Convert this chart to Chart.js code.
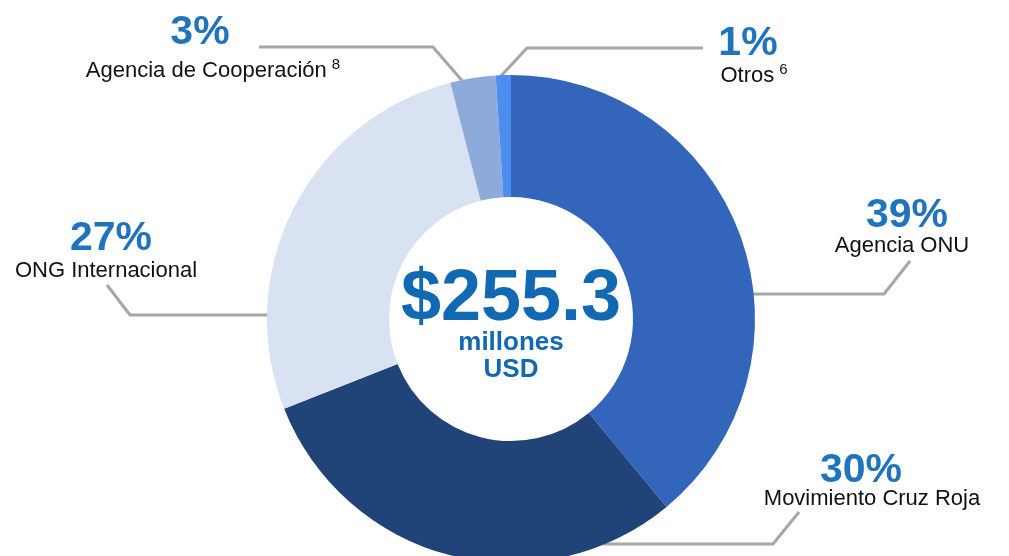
<!doctype html>
<html>
<head>
    <title>Fondos por tipo de organización</title>
    <script src="https://cdn.jsdelivr.net/npm/chart.js"></script>
    <style>
        html, body {
            margin: 0;
            padding: 0;
            background: #fff;
            overflow: hidden;
        }
        #wrap {
            position: absolute;
            left: 0;
            top: 0;
            width: 1009px;
            height: 600px;
        }
    </style>
</head>
<body>
    <div id="wrap"><canvas id="donut" width="1009" height="600"></canvas></div>

    <script>
        // data
        const categories = ['Agencia ONU', 'Movimiento Cruz Roja', 'ONG Internacional', 'Agencia de Cooperación', 'Otros'];
        const shares = [39, 30, 27, 3, 1];
        const footnotes = ['', '', '', '8', '6'];
        const totalValue = '$255.3';
        const totalUnit = ['millones', 'USD'];

        const sliceColors = ['#3366BB', '#214478', '#D9E2F3', '#8EAADB', '#4D8DF0'];

        // where each callout sits: percent / name anchors and the leader line (last point goes onto the ring)
        const callouts = [
            { pct: [907, 227], name: [902, 252], line: [[910, 261], [884, 294], [750, 294]] },
            { pct: [861, 482], name: [872, 505], line: [[799, 512], [773, 544], [600, 544]] },
            { pct: [111, 250], name: [106, 277], line: [[107, 285], [130, 315], [275, 315]] },
            { pct: [200, 44], name: [213, 77], line: [[259, 47], [433, 47], [458, 76]] },
            { pct: [748, 55], name: [754, 82], line: [[703, 48], [527, 48], [501, 76]] }
        ];

        const FONT = '"Liberation Sans", Arial, sans-serif';

        function ringHit(p, e, cx, cy, r) {
            // first point where the ray p -> e meets the outer circle
            let dx = e[0] - p[0], dy = e[1] - p[1];
            const len = Math.hypot(dx, dy);
            dx /= len; dy /= len;
            const fx = p[0] - cx, fy = p[1] - cy;
            const b = fx * dx + fy * dy;
            const c = fx * fx + fy * fy - r * r;
            const disc = b * b - c;
            if (disc < 0) return e;
            const t = -b - Math.sqrt(disc);
            return [p[0] + dx * (t + 2), p[1] + dy * (t + 2)];
        }

        const calloutPlugin = {
            id: 'callouts',
            beforeDatasetsDraw(chart) {
                const arc = chart.getDatasetMeta(0).data[0];
                const { x, y, outerRadius } = arc.getProps(['x', 'y', 'outerRadius'], true);
                const ctx = chart.ctx;
                ctx.save();
                ctx.strokeStyle = '#A6A6A6';
                ctx.lineWidth = 3;
                ctx.lineJoin = 'miter';
                callouts.forEach(c => {
                    const pts = c.line;
                    const end = ringHit(pts[pts.length - 2], pts[pts.length - 1], x, y, outerRadius);
                    ctx.beginPath();
                    ctx.moveTo(pts[0][0], pts[0][1]);
                    for (let i = 1; i < pts.length - 1; i++) ctx.lineTo(pts[i][0], pts[i][1]);
                    ctx.lineTo(end[0], end[1]);
                    ctx.stroke();
                });
                ctx.restore();
            },
            afterDraw(chart) {
                const ctx = chart.ctx;
                const arc = chart.getDatasetMeta(0).data[0];
                const { x, y } = arc.getProps(['x', 'y'], true);
                ctx.save();
                ctx.textBaseline = 'alphabetic';

                callouts.forEach((c, i) => {
                    ctx.textAlign = 'center';
                    ctx.fillStyle = '#1F74BD';
                    ctx.font = 'bold 41px ' + FONT;
                    ctx.fillText(shares[i] + '%', c.pct[0], c.pct[1]);

                    ctx.font = '22px ' + FONT;
                    const w = ctx.measureText(categories[i]).width;
                    let sw = 0;
                    if (footnotes[i]) {
                        ctx.font = '15px ' + FONT;
                        sw = ctx.measureText(footnotes[i]).width + 5;
                    }
                    const left = c.name[0] - (w + sw) / 2;
                    ctx.textAlign = 'left';
                    ctx.fillStyle = '#111';
                    ctx.font = '22px ' + FONT;
                    ctx.fillText(categories[i], left, c.name[1]);
                    if (footnotes[i]) {
                        ctx.font = '15px ' + FONT;
                        ctx.fillText(footnotes[i], left + w + 5, c.name[1] - 8);
                    }
                });

                ctx.textAlign = 'center';
                ctx.fillStyle = '#1169B4';
                ctx.font = 'bold 72px ' + FONT;
                ctx.fillText(totalValue, x, y + 1);
                ctx.font = 'bold 26px ' + FONT;
                ctx.fillText(totalUnit[0], x, y + 31);
                ctx.fillText(totalUnit[1], x, y + 58);
                ctx.restore();
            }
        };

        new Chart(document.getElementById('donut'), {
            type: 'doughnut',
            data: {
                labels: categories,
                datasets: [{
                    data: shares,
                    backgroundColor: sliceColors,
                    borderWidth: 0,
                    hoverOffset: 0
                }]
            },
            options: {
                responsive: false,
                animation: false,
                cutout: '50%',
                layout: {
                    padding: { top: 75, bottom: 37, left: 267, right: 254 }
                },
                plugins: {
                    legend: { display: false },
                    tooltip: { enabled: false }
                }
            },
            plugins: [calloutPlugin]
        });
    </script>
</body>
</html>
